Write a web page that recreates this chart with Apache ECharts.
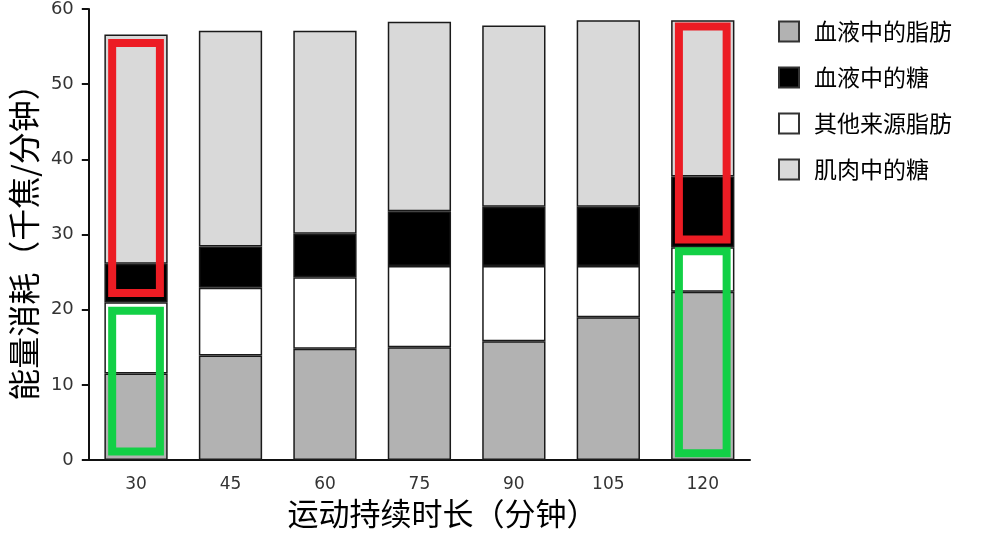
<!DOCTYPE html>
<html>
<head>
<meta charset="utf-8">
<script src="https://cdn.jsdelivr.net/npm/echarts@6/dist/echarts.min.js"></script>
<style>
html,body{margin:0;padding:0;background:#fff;}
#main{width:987px;height:538px;}
</style>
</head>
<body>
<div id="main"></div>
<script>
const categories = ['30', '45', '60', '75', '90', '105', '120'];
const bloodFat    = [11.5, 13.9, 14.8, 15.0, 15.8, 19.0, 22.4];
const otherFat    = [9.5, 9.0, 9.5, 10.8, 10.0, 6.8, 5.9];
const bloodSugar  = [5.1, 5.5, 5.8, 7.3, 7.9, 7.9, 9.4];
const muscleSugar = [30.5, 28.7, 27.0, 25.2, 24.1, 24.8, 20.8];
const yMin = 0, yMax = 60, yInterval = 10;
// highlight boxes: [category, low value, high value]
const redBoxes   = [['30', 21.7, 56.0], ['120', 28.8, 58.2]];
const greenBoxes = [['30', 0.6, 20.4], ['120', 0.35, 28.3]];

const seriesNames = ['血液中的脂肪', '其他来源脂肪', '血液中的糖', '肌肉中的糖'];
const legendOrder = ['血液中的脂肪', '血液中的糖', '其他来源脂肪', '肌肉中的糖'];
const colors = { '血液中的脂肪': '#b2b2b2', '其他来源脂肪': '#ffffff', '血液中的糖': '#000000', '肌肉中的糖': '#d9d9d9' };
const values = { '血液中的脂肪': bloodFat, '其他来源脂肪': otherFat, '血液中的糖': bloodSugar, '肌肉中的糖': muscleSugar };

const chart = echarts.init(document.getElementById('main'), null, { renderer: 'canvas' });

function boxSeries(name, data, color) {
  return {
    type: 'custom',
    name: name,
    data: data,
    z: 10,
    silent: true,
    renderItem: function (params, api) {
      const idx = api.value(0);
      const lo = api.coord([idx, api.value(1)]);
      const hi = api.coord([idx, api.value(2)]);
      const band = api.size([1, 0])[0];
      const w = band * 0.59;
      const lw = 8;
      return {
        type: 'rect',
        shape: { x: lo[0] - w / 2 + lw / 2, y: hi[1] + lw / 2, width: w - lw, height: lo[1] - hi[1] - lw },
        style: { fill: 'none', stroke: color, lineWidth: lw }
      };
    }
  };
}

const barSeries = seriesNames.map(function (n) {
  return {
    type: 'bar',
    name: n,
    stack: 'total',
    barWidth: '67%',
    data: values[n],
    itemStyle: { color: colors[n], borderColor: '#1a1a1a', borderWidth: 1.5 },
    emphasis: { disabled: true }
  };
});

const option = {
  animation: false,
  backgroundColor: '#ffffff',
  grid: { left: 88, right: 237, top: 8, bottom: 78, containLabel: false },
  legend: {
    data: legendOrder,
    orient: 'vertical',
    left: 778,
    top: 20,
    padding: 0,
    itemWidth: 20,
    itemHeight: 20,
    itemGap: 23,
    icon: 'rect',
    itemStyle: { borderColor: '#333', borderWidth: 2 },
    textStyle: { fontFamily: 'Noto Sans CJK SC', fontSize: 23, color: '#000', padding: [0, 0, 0, 10] }
  },
  xAxis: {
    type: 'category',
    data: categories,
    name: '运动持续时长（分钟）',
    nameLocation: 'middle',
    nameGap: 35,
    nameTextStyle: { fontFamily: 'Noto Sans CJK SC', fontSize: 31, color: '#000', padding: [0, 0, 0, 46] },
    axisLine: { lineStyle: { color: '#111', width: 2 } },
    axisTick: { alignWithLabel: true, length: 8, lineStyle: { color: '#111', width: 2 } },
    axisLabel: { fontFamily: 'DejaVu Sans', fontSize: 17, color: '#333', margin: 16 }
  },
  yAxis: {
    type: 'value',
    min: yMin,
    max: yMax,
    interval: yInterval,
    name: '能量消耗（千焦/分钟）',
    nameLocation: 'middle',
    nameGap: 48,
    nameTextStyle: { fontFamily: 'Noto Sans CJK SC', fontSize: 32, color: '#000' },
    splitLine: { show: false },
    axisLine: { show: true, lineStyle: { color: '#111', width: 2 } },
    axisTick: { show: true, length: 7, lineStyle: { color: '#111', width: 2 } },
    axisLabel: { fontFamily: 'DejaVu Sans', fontSize: 18, color: '#333', margin: 15 }
  },
  series: barSeries.concat([
    boxSeries('红框', redBoxes, '#ec1c24'),
    boxSeries('绿框', greenBoxes, '#12d046')
  ])
};
chart.setOption(option);
</script>
</body>
</html>
